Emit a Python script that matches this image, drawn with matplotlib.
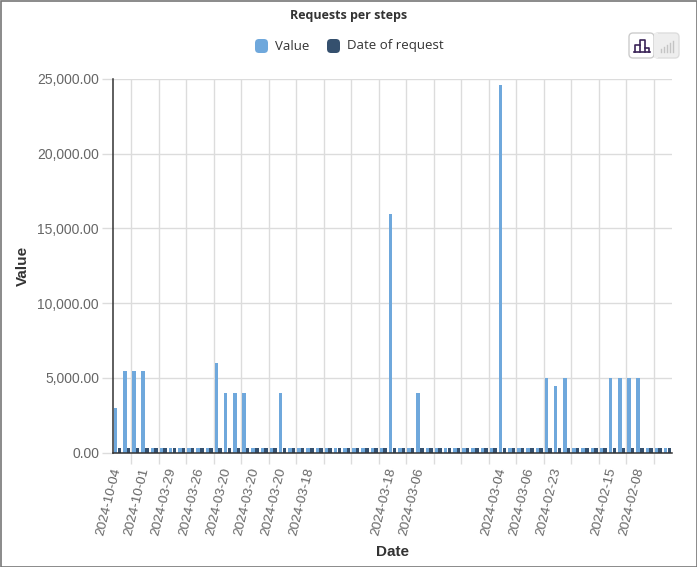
import matplotlib.pyplot as plt
import numpy as np
from matplotlib.patches import FancyBboxPatch, Rectangle
from matplotlib.lines import Line2D
from matplotlib.transforms import IdentityTransform

W, H = 697, 567

# one value per request, left to right
value = [
    3000, 5450, 5450, 5450, 270, 270, 270, 270, 270, 270,
    270, 6000, 4000, 4000, 4000, 270, 270, 270, 4000, 270,
    270, 270, 270, 270, 270, 270, 270, 270, 270, 270,
    15950, 270, 270, 4000, 270, 270, 270, 270, 270, 270,
    270, 270, 24600, 270, 270, 270, 270, 5000, 4450, 5000,
    270, 270, 270, 270, 5000, 5000, 5000, 5000, 270, 270,
    270,
]
date_of_request = [
    270, 270, 270, 270, 270, 270, 270, 270, 270, 270,
    270, 270, 270, 270, 270, 270, 270, 270, 270, 270,
    270, 270, 270, 270, 270, 270, 270, 270, 270, 270,
    270, 270, 270, 270, 270, 270, 270, 270, 270, 270,
    270, 270, 270, 270, 270, 270, 270, 270, 270, 270,
    270, 270, 270, 270, 270, 270, 270, 270, 270, 270,
    270,
]
# labels shown on every 3rd bar (blank where the chart shows none)
tick_labels = [
    "2024-10-04", "2024-10-01", "2024-03-29", "2024-03-26", "2024-03-20",
    "2024-03-20", "2024-03-20", "2024-03-18", "", "",
    "2024-03-18", "2024-03-06", "", "", "2024-03-04",
    "2024-03-06", "2024-02-23", "", "2024-02-15", "2024-02-08", "",
]
y_ticks = [0, 5000, 10000, 15000, 20000, 25000]

LIGHT = "#6fa8dc"
DARK = "#35506e"
GRID = "#dcdcdc"
TICK_C = "#666666"

fig = plt.figure(figsize=(W / 100, H / 100), dpi=100)
ax = fig.add_axes([113 / W, 1 - 452.5 / H, (672 - 113) / W, (452.5 - 79) / H])

x = np.arange(len(value))
ax.bar(x - 0.2, value, width=0.38, color=LIGHT, zorder=3)
ax.bar(x + 0.2, date_of_request, width=0.38, color=DARK, zorder=3)

ax.set_xlim(-0.5, len(value) - 0.5)
ax.set_ylim(y_ticks[0], y_ticks[-1])
ax.set_yticks(y_ticks)
ax.set_yticklabels([f"{v:,.2f}" for v in y_ticks], fontsize=10, color=TICK_C,
                   family="Liberation Sans")
ax.tick_params(axis="y", length=8, color=GRID, width=1, pad=2)

ax.set_xticks(x[::3])
ax.set_xticklabels(tick_labels, rotation=76, ha="right", va="center",
                   rotation_mode="anchor", fontsize=9.7, color=TICK_C,
                   family="Liberation Sans")
ax.tick_params(axis="x", which="major", length=0, pad=11)
ax.set_xticks(np.arange(1.5, len(value) - 1, 3), minor=True)
ax.tick_params(axis="x", which="minor", length=8, color=GRID, width=1)

ax.grid(True, axis="y", color=GRID, lw=1, zorder=0)
ax.grid(True, axis="x", which="minor", color=GRID, lw=1, zorder=0)
ax.set_axisbelow(True)

for s in ("top", "right"):
    ax.spines[s].set_visible(False)
for s in ("left", "bottom"):
    ax.spines[s].set_color("#333333")
    ax.spines[s].set_linewidth(1.1)
    ax.spines[s].set_zorder(4)

fig.text(22.5 / W, 1 - 266 / H, "Value", rotation=90, ha="center", va="center",
         fontsize=11, fontweight="bold", color="#333333", family="Liberation Sans")
fig.text(392.5 / W, 1 - 552 / H, "Date", ha="center", va="center",
         fontsize=11, fontweight="bold", color="#333333", family="Liberation Sans")

# title and legend
fig.text(348.5 / W, 1 - 15 / H, "Requests per steps", ha="center", va="center",
         fontsize=9, fontweight="bold", color="#333333", family="Open Sans")

ident = IdentityTransform()


def box(x0, y0, w, h, fc, ec="none", r=3):
    p = FancyBboxPatch((x0, H - y0 - h), w, h, boxstyle=f"round,pad=0,rounding_size={r}",
                       fc=fc, ec=ec, lw=1, transform=ident)
    fig.add_artist(p)


box(255, 39, 13, 14, LIGHT, r=4)
fig.text(275 / W, 1 - 46 / H, "Value", ha="left", va="center", fontsize=9.5,
         color="#333333", family="Open Sans")
box(327, 39, 13, 14, DARK, r=4)
fig.text(347 / W, 1 - 46 / H, "Date of request", ha="left", va="center", fontsize=9.5,
         color="#333333", family="Open Sans")

# chart type toggle (top right)
box(654, 33, 25, 25, "#eeeeee", "#dddddd", r=4)
box(629, 33, 25, 25, "white", "#cccccc", r=4)
fig.add_artist(Rectangle((654, H - 58), 4, 25, fc="#eeeeee", ec="none", transform=ident))


def seg(xs, ys, c, lw=1.2):
    fig.add_artist(Line2D(xs, [H - v for v in ys], color=c, lw=lw, transform=ident))


ic = "#3b2458"
seg([634, 650], [51.5, 51.5], ic)
seg([635, 635, 640, 640], [51.5, 44.5, 44.5, 51.5], ic)
seg([640, 640, 645, 645], [44.5, 39.5, 39.5, 51.5], ic)
seg([645, 649, 649], [47.5, 47.5, 51.5], ic)
for i, top in enumerate([49, 47, 45, 43, 41]):
    seg([661 + 3 * i, 661 + 3 * i], [51.5, top], "#c4c4c4", lw=1)

# outer border
fig.add_artist(Rectangle((0.5, 0.5), W - 1, H - 1, fc="none", ec="#777777", lw=1.2,
                         transform=ident))

fig.savefig("out.png", dpi=100)
